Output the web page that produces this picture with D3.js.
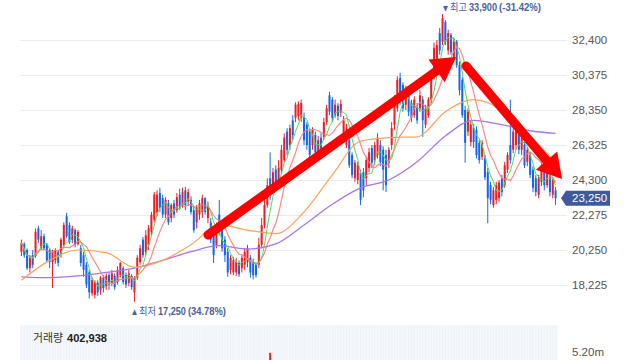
<!DOCTYPE html>
<html><head><meta charset="utf-8">
<script src="https://cdn.jsdelivr.net/npm/d3@7"></script>
<style>html,body{margin:0;padding:0;background:#fff;overflow:hidden}</style>
</head><body><svg id="c" width="640" height="360"></svg>
<script>
// ---- data ----
const opens = [20150,20600,20250,19200,19950,19900,21500,20350,21050,20550,20250,19550,19650,20150,19950,20550,22200,21700,20850,21400,
20600,20350,19950,19400,18950,17750,17650,18350,17950,18650,18150,18800,18350,18750,18400,18800,19200,18800,18350,18750,
17800,18650,19550,20850,20150,20550,21300,22000,22400,23550,23250,22300,22950,22100,22950,22550,23450,22850,23700,23050,
23150,22550,21850,22300,22450,23250,22100,21850,21250,20550,22300,21500,20850,20150,19100,18950,18950,19500,19200,19400,
19550,19800,19550,19400,19400,20550,21700,22850,24400,23850,24900,24300,24900,25450,27100,26325,27750,27900,28000,27900,
27950,27500,27100,26325,26900,25750,26750,26800,27650,29200,28950,28050,28600,28200,26900,26325,26600,25750,24400,24300,
24700,24750,24400,25000,26150,25450,25750,26325,26050,25750,25300,26325,27500,28450,30200,29800,28650,29200,28750,28050,
28500,28450,28950,27500,28050,28950,30375,30800,32800,32300,33450,31800,32700,31250,32300,30950,30100,28350,27100,26500,
27300,27200,26450,25650,25550,24750,24000,22850,23150,23250,24400,24000,24900,26325,26050,26325,26900,26050,26325,25350,
25750,24900,24400,23450,24200,25000,24000,24600,23450,23700];
const highs = [20850,20700,20350,19950,20250,21500,21650,21400,21200,20650,20350,20250,20350,20250,20950,21850,22400,21850,21650,21500,
21400,20550,20150,19550,19100,18650,18500,18500,18750,18800,18900,18950,19100,18900,19300,19550,19300,18950,19100,18850,
18750,19950,20550,21000,21400,21700,22450,23600,23700,23850,23450,23300,23150,22950,23150,23550,23800,23850,23900,23800,
23350,22800,22850,23150,23450,23300,23050,22100,21400,21850,23150,21700,21050,20350,19950,19850,19800,19650,19950,20350,
20550,19950,19750,19550,20950,22100,23250,24400,25900,25000,25150,25450,26325,27000,27300,27500,28050,28800,28850,28950,
28200,27650,27300,27350,27100,26850,27000,27900,28650,29400,29100,28950,28750,28950,28000,27550,26850,25900,25450,25350,
24900,25000,25650,26150,26325,26500,27000,26600,26250,26050,26200,27650,29200,30300,30500,29950,29750,29500,28950,29150,
28750,29500,29150,28650,29100,30375,32250,32400,33100,33900,33550,33000,32800,32500,32400,31150,30250,28600,28450,27750,
27550,27400,26600,26600,25750,25000,24200,23900,24200,24300,24600,25350,25900,28950,27300,27350,27100,26900,26500,26200,
25900,25100,24600,24600,25350,25150,25050,24750,24450,23900];
const lows = [19900,19800,19100,18950,19200,19800,20650,20250,20250,19550,19200,18050,19450,19300,19800,20350,20950,20600,20650,20400,
20500,19300,18700,18050,17450,17600,17450,17600,17650,17800,17950,17950,18150,17950,18250,18650,18250,18050,18150,17950,
17250,18500,19400,19800,19950,20250,21100,21850,22200,22450,22100,22100,21700,21850,22100,22400,22550,22700,22550,22800,
22300,21250,21500,22000,22100,22300,21800,20650,19500,20350,21100,20150,19550,18700,18850,18800,18750,18700,18950,19100,
19250,18650,18550,18650,19200,20350,21500,22700,23150,23600,23700,24000,24650,25300,25750,26050,26600,27650,27750,27650,
26325,26050,25450,26050,25550,25450,25750,26600,27500,28050,27650,27900,27750,27950,26750,26150,25000,24400,24200,24050,
22850,23300,24000,24750,25000,25150,25550,25100,23700,23600,25000,26050,27200,28250,28650,28250,28350,28000,27650,27900,
27550,28250,26800,27300,27900,28750,30100,30550,31550,32100,32100,31550,31550,31150,30800,29200,27900,25300,26850,26250,
26150,25550,25250,25450,24300,21800,22900,22700,22900,23050,23350,23850,24700,25250,25850,26050,25800,25750,25000,25100,
24400,23600,23350,23250,23950,23700,23850,23350,23250,22850];
const closes = [20650,19950,19200,19800,19400,21300,20850,21050,20350,19650,19550,20150,20250,19500,20850,21700,21050,20700,21500,20550,
21300,19500,19100,18250,17800,18500,18400,17800,18650,18050,18750,18250,18900,18100,19100,19500,18400,18250,18900,18100,
18650,19800,20350,19950,21100,21500,22300,23450,23450,22700,22300,23150,21850,22850,22300,23300,22750,23600,22850,23600,
22450,21400,22700,22950,23250,22450,22850,20850,19950,21700,21300,20350,19950,18950,19800,19650,19550,18850,19800,20150,
20350,18950,18800,18800,20550,21700,22850,24000,23450,24750,24000,25000,26050,26750,26050,27300,26900,28650,28700,28750,
26600,26325,25750,27200,25900,26600,26050,27650,28450,28250,27900,28650,28000,28700,27750,27300,25150,24600,25300,25150,
23150,23700,25450,25900,25300,26325,26750,25350,24900,24000,26050,27300,28950,30100,28950,28450,29500,28250,27900,28950,
27750,29200,27750,28450,28950,30100,31950,32100,31800,33650,32300,32800,31700,32300,30950,29500,28050,26450,28250,27500,
26500,25750,25450,26450,24450,23250,23150,23700,24000,24150,23600,25150,25750,25450,27100,27200,26050,26750,25150,26050,
24600,23850,23600,24400,25150,24000,24900,23600,24300,23250];
// slow moving averages, read at these candle indices
const maIndex = [0,10,20,30,40,50,60,70,80,90,100,110,120,130,140,150,160,170,180,189];
const maOrange = [18500,19650,20250,20100,19250,19650,20550,21700,21400,21200,22450,24600,26550,26750,26800,28250,28950,28350,26850,25300];
const maPurple = [18700,18650,18750,18950,19200,19650,20150,20500,20300,20600,21700,22900,23850,24300,25350,26850,27750,27500,27150,27000];
const yTicks = [32400,30375,28350,26325,24300,22275,20250,18225];
const lastPrice = 23250;
const highMark = {index:149, price:33900, pct:"-31.42%"};
const lowMark = {index:40, price:17250, pct:"34.78%"};
const volumeTotal = 402938;
const volumeTickLabel = "5.20m";
const volumeTickValue = 5.2e6;
const volumeSpikes = [{index:88, value:5.15e6}];
const arrowsData = [
  {from:{i:66.0, p:21118}, to:{i:153.8, p:31420}},
  {from:{i:157.3, p:30900}, to:{i:191.3, p:24360}}
];

// ---- drawing ----
const svg = d3.select('#c');
const N = closes.length;
const x = d3.scaleLinear().domain([-0.5, N - 0.5]).range([20, 557]);
const y = d3.scaleLinear().domain([18225, 32400]).range([285, 40]);
const yv = d3.scaleLinear().domain([0, volumeTickValue]).range([440, 352]);
const gridRight = 567;
const fmt = d3.format(",");
const RED = "#ee1d24", BLUE = "#1467ec";
const NUMFONT = 'Liberation Sans, Arial, sans-serif';
const KRFONT = 'Noto Sans CJK KR, sans-serif';

// sequential label parts, each squeezed to the width seen in the reference
function seqText(x0, yb, parts) {
  let cx = x0;
  parts.forEach(p => {
    svg.append('text').attr('x', cx).attr('y', yb)
      .attr('font-family', p.font).attr('font-size', p.size).attr('font-weight', p.weight || 'normal')
      .attr('fill', p.fill).attr('textLength', p.w).attr('lengthAdjust', 'spacingAndGlyphs')
      .text(p.text);
    cx += p.w + (p.gap || 0);
  });
}

// grid
svg.append('g').attr('transform', `translate(${gridRight},0)`)
  .call(d3.axisLeft(y).tickValues(yTicks).tickSize(gridRight - 20).tickFormat(''))
  .call(g => g.select('.domain').remove())
  .call(g => g.selectAll('line').attr('stroke', '#e8edf3'));

// axis labels
svg.append('g').attr('transform', `translate(${gridRight + 1},0)`)
  .call(d3.axisRight(y).tickValues(yTicks).tickSize(0).tickPadding(4).tickFormat(fmt))
  .call(g => g.select('.domain').remove())
  .call(g => g.selectAll('text').attr('fill', '#555').attr('font-size', 11.5).attr('font-family', NUMFONT));

// volume panel
svg.append('rect').attr('x', x(-0.5)).attr('y', 325).attr('width', x(N - 0.5) - x(-0.5) + 1)
  .attr('height', 35).attr('fill', '#f4f7fb');
svg.append('g').selectAll('line').data(d3.range(N)).join('line')
  .attr('x1', d => x(d)).attr('x2', d => x(d)).attr('y1', 326).attr('y2', 360)
  .attr('stroke', '#edf2f8').attr('stroke-width', 1);
svg.append('g').selectAll('rect').data(volumeSpikes).join('rect')
  .attr('x', d => x(d.index) - 1).attr('width', 2)
  .attr('y', d => yv(d.value)).attr('height', d => 360 - yv(d.value))
  .attr('fill', RED);
seqText(33, 342, [
  {text:'거래량', font:KRFONT, size:11.5, fill:'#333', w:30, gap:4},
  {text:fmt(volumeTotal), font:NUMFONT, size:11.5, weight:'bold', fill:'#222', w:40}
]);
svg.append('text').attr('x', 572).attr('y', yv(volumeTickValue)).attr('dy', '0.35em')
  .attr('font-family', NUMFONT).attr('font-size', 11.5).attr('fill', '#555')
  .text(volumeTickLabel);

// candles
const cg = svg.append('g');
const idx = d3.range(N);
cg.selectAll('line').data(idx).join('line')
  .attr('x1', i => x(i)).attr('x2', i => x(i))
  .attr('y1', i => y(highs[i])).attr('y2', i => y(lows[i]))
  .attr('stroke', i => closes[i] >= opens[i] ? RED : BLUE).attr('stroke-width', 1);
cg.selectAll('rect').data(idx).join('rect')
  .attr('x', i => x(i) - 1).attr('width', 2)
  .attr('y', i => y(Math.max(opens[i], closes[i])))
  .attr('height', i => Math.max(1, Math.abs(y(opens[i]) - y(closes[i]))))
  .attr('fill', i => closes[i] >= opens[i] ? RED : BLUE);

// moving averages
const sma = (arr, n) => arr.map((_, i) => d3.mean(arr.slice(Math.max(0, i - n + 1), i + 1)));
const ma5 = sma(closes, 5), ma10 = sma(closes, 10);
const lineIdx = d3.line().x((d, i) => x(i)).y(d => y(d));
const lineSlow = d3.line().x(d => x(d[0])).y(d => y(d[1])).curve(d3.curveMonotoneX);
svg.append('path').datum(d3.zip(maIndex, maPurple)).attr('d', lineSlow)
  .attr('fill', 'none').attr('stroke', '#a575f2').attr('stroke-width', 1.3);
svg.append('path').datum(d3.zip(maIndex, maOrange)).attr('d', lineSlow)
  .attr('fill', 'none').attr('stroke', '#ffa45a').attr('stroke-width', 1.2);
svg.append('path').datum(ma10).attr('d', lineIdx)
  .attr('fill', 'none').attr('stroke', '#ff7a7a').attr('stroke-width', 1.2).attr('opacity', 0.9);
svg.append('path').datum(ma5).attr('d', lineIdx)
  .attr('fill', 'none').attr('stroke', '#5ad65a').attr('stroke-width', 1);

// high / low markers
const markColor = '#4b5f9f';
seqText(x(highMark.index) + 0.5, y(highMark.price) - 3, [
  {text:'▼', font:KRFONT, size:7, fill:markColor, w:5, gap:2},
  {text:'최고', font:KRFONT, size:10, fill:markColor, w:17, gap:2},
  {text:fmt(highMark.price), font:NUMFONT, size:10.5, weight:600, fill:markColor, w:28, gap:2},
  {text:`(${highMark.pct})`, font:NUMFONT, size:10.5, weight:600, fill:markColor, w:42}
]);
seqText(x(lowMark.index) - 2.5, y(lowMark.price) + 13, [
  {text:'▲', font:KRFONT, size:7, fill:markColor, w:5, gap:2},
  {text:'최저', font:KRFONT, size:10, fill:markColor, w:17, gap:2},
  {text:fmt(lowMark.price), font:NUMFONT, size:10.5, weight:600, fill:markColor, w:28, gap:2},
  {text:`(${lowMark.pct})`, font:NUMFONT, size:10.5, weight:600, fill:markColor, w:38}
]);

// arrows
const ag = svg.append('g');
arrowsData.forEach(a => {
  const x0 = x(a.from.i), y0 = y(a.from.p), x1 = x(a.to.i), y1 = y(a.to.p);
  const dx = x1 - x0, dy = y1 - y0, len = Math.hypot(dx, dy);
  const ux = dx / len, uy = dy / len, nx = -uy, ny = ux;
  const L = 24, W = 14;
  const bx = x1 - ux * L, by = y1 - uy * L;
  ag.append('line').attr('x1', x0).attr('y1', y0).attr('x2', bx + ux * 3).attr('y2', by + uy * 3)
    .attr('stroke', '#ff0000').attr('stroke-width', 9).attr('stroke-linecap', 'round');
  ag.append('path').attr('d', `M${x1},${y1}L${bx + nx * W},${by + ny * W}L${bx - nx * W},${by - ny * W}Z`)
    .attr('fill', '#ff0000');
});

// current price tag
const ty = y(lastPrice);
svg.append('path')
  .attr('d', `M561,${ty}L566,${ty - 7.5}L610,${ty - 7.5}L610,${ty + 7.5}L566,${ty + 7.5}Z`)
  .attr('fill', '#3e5a9c');
svg.append('text').attr('x', 572).attr('y', ty).attr('dy', '0.35em')
  .attr('font-family', NUMFONT).attr('font-size', 11.5).attr('fill', '#fff')
  .text(fmt(lastPrice));
</script></body></html>
